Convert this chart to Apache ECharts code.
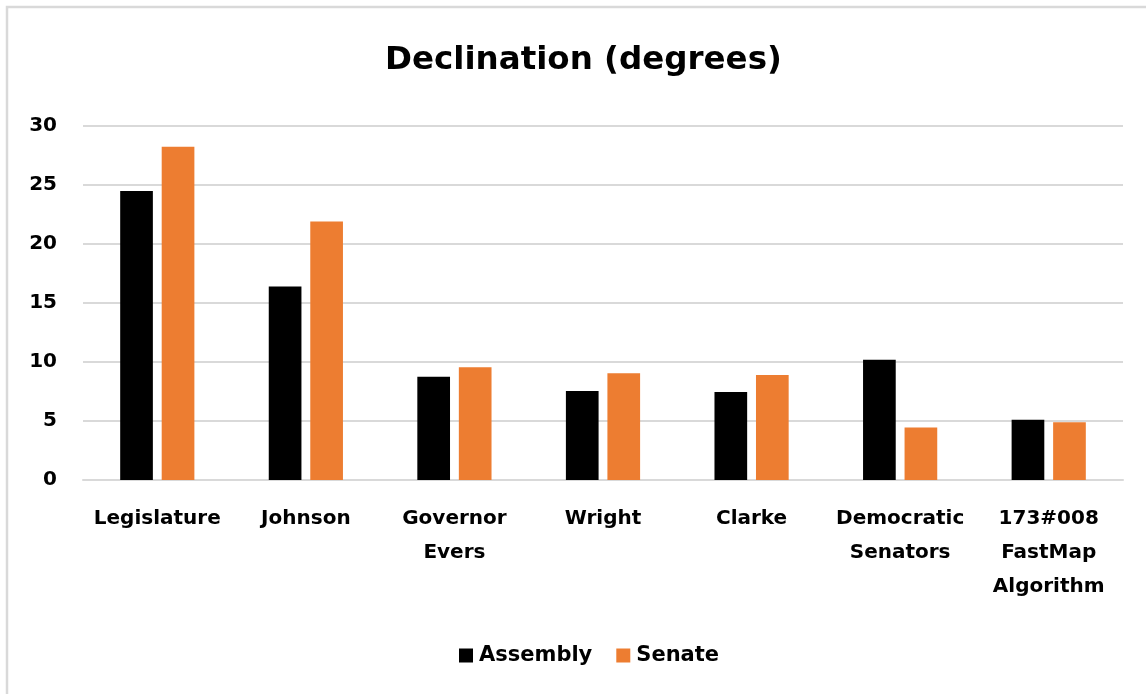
<!DOCTYPE html>
<html>
<head>
<meta charset="utf-8">
<script src="https://cdn.jsdelivr.net/npm/echarts@6/dist/echarts.min.js"></script>
<style>
html,body{margin:0;padding:0;background:#fff;}
#chart{width:1146px;height:694px;}
</style>
</head>
<body>
<div id="chart"></div>
<script>
const categories = ['Legislature', 'Johnson', 'Governor\nEvers', 'Wright', 'Clarke', 'Democratic\nSenators', '173#008\nFastMap\nAlgorithm'];
const assembly = [24.5, 16.4, 8.75, 7.55, 7.45, 10.2, 5.1];
const senate = [28.25, 21.9, 9.55, 9.05, 8.9, 4.45, 4.9];
const yTicks = { min: 0, max: 30, interval: 5 };

const FONT = '"DejaVu Sans", sans-serif';
const chart = echarts.init(document.getElementById('chart'), null, { renderer: 'canvas' });
chart.setOption({
  backgroundColor: '#ffffff',
  animation: false,
  graphic: [{
    type: 'rect',
    shape: { x: 7, y: 7, width: 1300, height: 900 },
    style: { fill: 'none', stroke: '#d9d9d9', lineWidth: 2.5 },
    silent: true
  }],
  title: {
    text: 'Declination (degrees)',
    left: 380,
    top: 39,
    textStyle: { fontFamily: FONT, fontSize: 32.5, fontWeight: 'bold', color: '#000' }
  },
  legend: {
    data: ['Assembly', 'Senate'],
    left: 454,
    top: 640,
    icon: 'rect',
    itemWidth: 14,
    itemHeight: 14,
    itemGap: 24,
    textStyle: { fontFamily: FONT, fontSize: 21, fontWeight: 'bold', color: '#000', padding: [0, 0, 0, 1] }
  },
  grid: { left: 83, right: 23, top: 126, bottom: 214, containLabel: false },
  xAxis: {
    type: 'category',
    data: categories,
    axisLine: { show: true, lineStyle: { color: '#d9d9d9', width: 2 } },
    axisTick: { show: false },
    axisLabel: {
      interval: 0,
      margin: 22,
      fontFamily: FONT, fontSize: 20, fontWeight: 'bold', color: '#000',
      lineHeight: 34
    }
  },
  yAxis: {
    type: 'value',
    min: yTicks.min, max: yTicks.max, interval: yTicks.interval,
    axisLine: { show: false },
    axisTick: { show: false },
    splitLine: { lineStyle: { color: '#d9d9d9', width: 2 } },
    axisLabel: { margin: 26, fontFamily: FONT, fontSize: 20, fontWeight: 'bold', color: '#000' }
  },
  series: [
    { name: 'Assembly', type: 'bar', data: assembly, barWidth: '22%', barGap: '27%',
      itemStyle: { color: '#000000' } },
    { name: 'Senate', type: 'bar', data: senate, barWidth: '22%', barGap: '27%',
      itemStyle: { color: '#ED7D31' } }
  ]
});
</script>
</body>
</html>
